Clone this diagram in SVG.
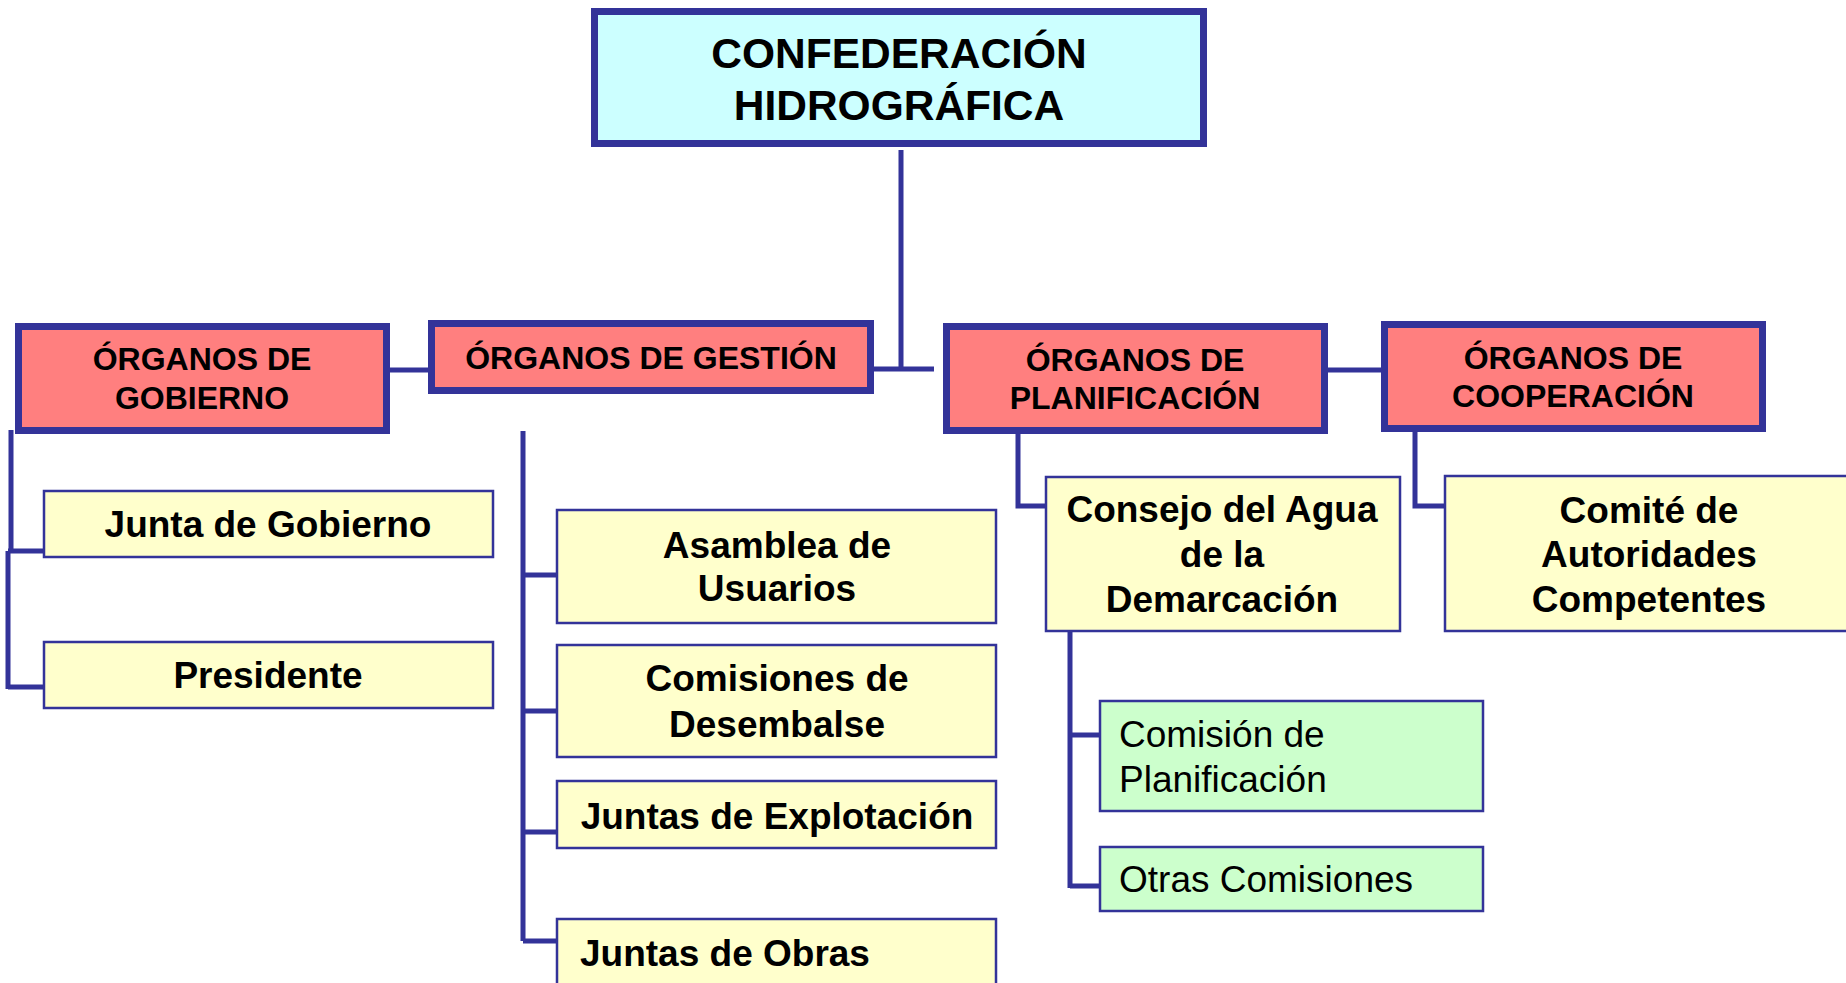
<svg xmlns="http://www.w3.org/2000/svg" width="1846" height="983" viewBox="0 0 1846 983">
<style>
.top{fill:#CCFFFF;stroke:#333399;stroke-width:7}
.red{fill:#FF7F7F;stroke:#333399;stroke-width:7}
.yel{fill:#FFFFCC;stroke:#333399;stroke-width:2.5}
.grn{fill:#CCFFCC;stroke:#333399;stroke-width:2.5}
.b{font-family:"Liberation Sans",Arial,sans-serif;font-weight:bold;fill:#000;text-anchor:middle}
.r{font-family:"Liberation Sans",Arial,sans-serif;fill:#000}
.c{fill:none;stroke:#333399;stroke-width:5}
</style>
<rect width="1846" height="983" fill="#FFFFFF"/>
<g id="connectors">
<path class="c" d="M901 150V369M874 369H934"/>
<path class="c" d="M390 370H428M1328 370H1381"/>
<path class="c" d="M11 430V553M8 551V689M8 551H43M8 687H43"/>
<path class="c" d="M523 431V941M523 575H556M523 711H556M523 832H556M523 941H556"/>
<path class="c" d="M1018 434V506H1045"/>
<path class="c" d="M1415 432V506H1444"/>
<path class="c" d="M1070 631V888M1070 735H1099M1070 886H1099"/>
</g>
<g id="confederacion">
<rect class="top" x="594.5" y="11.5" width="609" height="132"/>
<text class="b" x="899" y="68" font-size="42.5">CONFEDERACIÓN</text>
<text class="b" x="899" y="120" font-size="42.5">HIDROGRÁFICA</text>
</g>
<g id="gobierno">
<rect class="red" x="18.5" y="326.5" width="368" height="104"/>
<text class="b" x="202" y="370" font-size="32">ÓRGANOS DE</text>
<text class="b" x="202" y="409" font-size="32">GOBIERNO</text>
</g>
<g id="gestion">
<rect class="red" x="431.5" y="323.5" width="439" height="67"/>
<text class="b" x="651" y="369" font-size="32">ÓRGANOS DE GESTIÓN</text>
</g>
<g id="planificacion">
<rect class="red" x="946.5" y="326.5" width="378" height="104"/>
<text class="b" x="1135" y="371" font-size="32">ÓRGANOS DE</text>
<text class="b" x="1135" y="409" font-size="32">PLANIFICACIÓN</text>
</g>
<g id="cooperacion">
<rect class="red" x="1384.5" y="324.5" width="378" height="104"/>
<text class="b" x="1573" y="369" font-size="32">ÓRGANOS DE</text>
<text class="b" x="1573" y="407" font-size="32">COOPERACIÓN</text>
</g>
<g id="junta-gobierno">
<rect class="yel" x="44" y="491" width="449" height="66"/>
<text class="b" x="268" y="537" font-size="37">Junta de Gobierno</text>
</g>
<g id="presidente">
<rect class="yel" x="44" y="642" width="449" height="66"/>
<text class="b" x="268" y="688" font-size="37">Presidente</text>
</g>
<g id="asamblea">
<rect class="yel" x="557" y="510" width="439" height="113"/>
<text class="b" x="777" y="558" font-size="37">Asamblea de</text>
<text class="b" x="777" y="601" font-size="37">Usuarios</text>
</g>
<g id="comisiones-desembalse">
<rect class="yel" x="557" y="645" width="439" height="112"/>
<text class="b" x="777" y="691" font-size="37">Comisiones de</text>
<text class="b" x="777" y="737" font-size="37">Desembalse</text>
</g>
<g id="juntas-explotacion">
<rect class="yel" x="557" y="781" width="439" height="67"/>
<text class="b" x="777" y="829" font-size="37">Juntas de Explotación</text>
</g>
<g id="juntas-obras">
<rect class="yel" x="557" y="919" width="439" height="80"/>
<text class="b" x="580" y="966" font-size="37" style="text-anchor:start">Juntas de Obras</text>
</g>
<g id="consejo-agua">
<rect class="yel" x="1046" y="477" width="354" height="154"/>
<text class="b" x="1222" y="522" font-size="37">Consejo del Agua</text>
<text class="b" x="1222" y="567" font-size="37">de la</text>
<text class="b" x="1222" y="612" font-size="37">Demarcación</text>
</g>
<g id="comite">
<rect class="yel" x="1445" y="476" width="410" height="155"/>
<text class="b" x="1649" y="523" font-size="37">Comité de</text>
<text class="b" x="1649" y="567" font-size="37">Autoridades</text>
<text class="b" x="1649" y="612" font-size="37">Competentes</text>
</g>
<g id="comision-planificacion">
<rect class="grn" x="1100" y="701" width="383" height="110"/>
<text class="r" x="1119" y="747" font-size="37">Comisión de</text>
<text class="r" x="1119" y="792" font-size="37">Planificación</text>
</g>
<g id="otras-comisiones">
<rect class="grn" x="1100" y="847" width="383" height="64"/>
<text class="r" x="1119" y="892" font-size="37">Otras Comisiones</text>
</g>
</svg>
